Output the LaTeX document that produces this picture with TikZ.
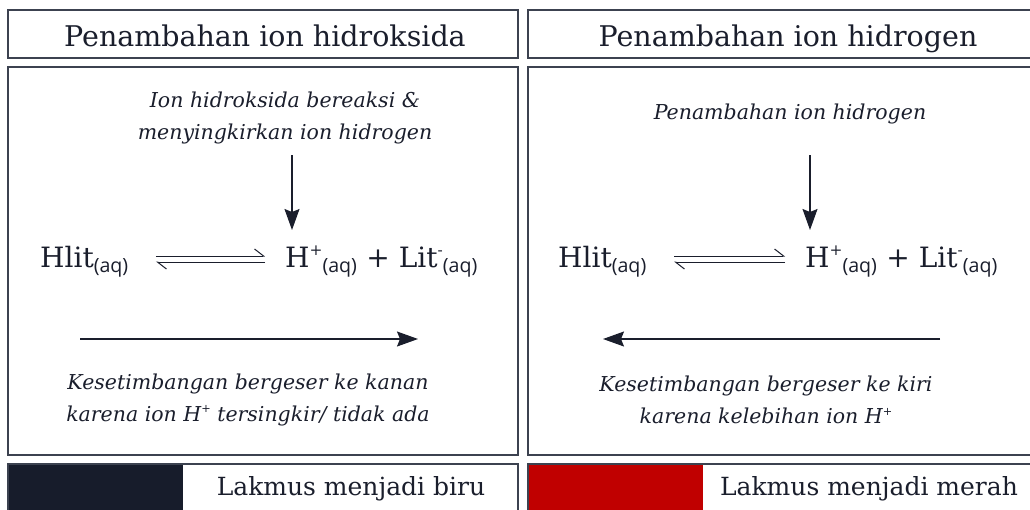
\documentclass[tikz,border=0pt]{standalone}
\usepackage{fontspec}
\setmainfont{DejaVu Serif}
\newfontfamily\aqfont{Open Sans}
\usetikzlibrary{arrows.meta, positioning}
\definecolor{framegray}{HTML}{3C4250}
\definecolor{inkblue}{HTML}{1A1E2C}
\definecolor{litmusblue}{HTML}{171C2B}
\definecolor{litmusred}{HTML}{C00000}
\newcommand{\aq}{\textsubscript{\aqfont(aq)}}
\newcommand{\ionsup}[1]{\raisebox{0.42em}{\fontsize{0.55em}{0.6em}\selectfont #1}}
\tikzset{
    x=1pt, y=-1pt,
    panel/.style={ % frames of the boxes
        draw=framegray,
        line width=1.3pt
    },
    heading/.style={font=\fontsize{28.5}{32}\selectfont, text=inkblue, anchor=base},
    result/.style={font=\fontsize{25}{28}\selectfont, text=inkblue, anchor=base},
    note/.style={ % italic explanations
        font=\fontsize{20.5}{32}\selectfont\itshape,
        text=inkblue,
        align=center
    },
    chem/.style={font=\fontsize{28}{32}\selectfont, text=inkblue, inner sep=0pt, anchor=base west},
    push/.style={draw=inkblue, line width=1.3pt, -{Stealth[length=21pt,width=15pt,inset=3pt]}},
    harpoon/.style={draw=inkblue, line width=1pt, -{Straight Barb[left,length=9pt,width=14pt]}}
}
\begin{document}
\begin{tikzpicture}
    \useasboundingbox (0,0) rectangle (1030,509);

    % left half: hydroxide added
    \draw[panel] (8,10) rectangle (518,58);
    \draw[panel] (8,67) rectangle (518,455);
    \fill[litmusblue] (8,464) rectangle (183,520);
    \draw[panel] (8,464) rectangle (518,520);
    \node[heading]    (titleL) at (265,46)  {Penambahan ion hidroksida};
    \node[note]       (noteL)  at (285,118) {Ion hidroksida bereaksi \&\\menyingkirkan ion hidrogen};
    \node[chem]       (hlitL)  at (40,267)  {Hlit\aq};
    \node[chem]       (ionsL)  at (285,267) {H\ionsup{+}\aq{} + Lit\ionsup{-}\aq};
    \node[note]       (shiftL) at (248,400) {Kesetimbangan bergeser ke kanan\\karena ion H\ionsup{+} tersingkir/ tidak ada};
    \node[result]     (litL)   at (351,495) {Lakmus menjadi biru};
    \coordinate (downL)  at (292,155);
    \coordinate (startL) at (80,339);
    \coordinate (endL)   at (418,339);

    \draw[push] (downL) -- (downL |- 0,230);
    \draw[harpoon] ([shift={(27pt,11pt)}]hlitL.base east) -- ([shift={(-20pt,11pt)}]ionsL.base west);
    \draw[harpoon] ([shift={(-20pt,5pt)}]ionsL.base west) -- ([shift={(27pt,5pt)}]hlitL.base east);
    \draw[push] (startL) -- (endL);

    % right half: hydrogen added
    \draw[panel] (528,10) rectangle (1040,58);
    \draw[panel] (528,67) rectangle (1040,455);
    \fill[litmusred] (528,464) rectangle (703,520);
    \draw[panel] (528,464) rectangle (1040,520);
    \node[heading]    (titleR) at (788,46)  {Penambahan ion hidrogen};
    \node[note]       (noteR)  at (790,114) {Penambahan ion hidrogen};
    \node[chem]       (hlitR)  at (558,267) {Hlit\aq};
    \node[chem]       (ionsR)  at (805,267) {H\ionsup{+}\aq{} + Lit\ionsup{-}\aq};
    \node[note]       (shiftR) at (766,400) {Kesetimbangan bergeser ke kiri\\karena kelebihan ion H\ionsup{+}};
    \node[result]     (litR)   at (869,495) {Lakmus menjadi merah};
    \coordinate (downR)  at (810,155);
    \coordinate (startR) at (940,339);
    \coordinate (endR)   at (603,339);

    \draw[push] (downR) -- (downR |- 0,230);
    \draw[harpoon] ([shift={(27pt,11pt)}]hlitR.base east) -- ([shift={(-20pt,11pt)}]ionsR.base west);
    \draw[harpoon] ([shift={(-20pt,5pt)}]ionsR.base west) -- ([shift={(27pt,5pt)}]hlitR.base east);
    \draw[push] (startR) -- (endR);
\end{tikzpicture}
\end{document}
